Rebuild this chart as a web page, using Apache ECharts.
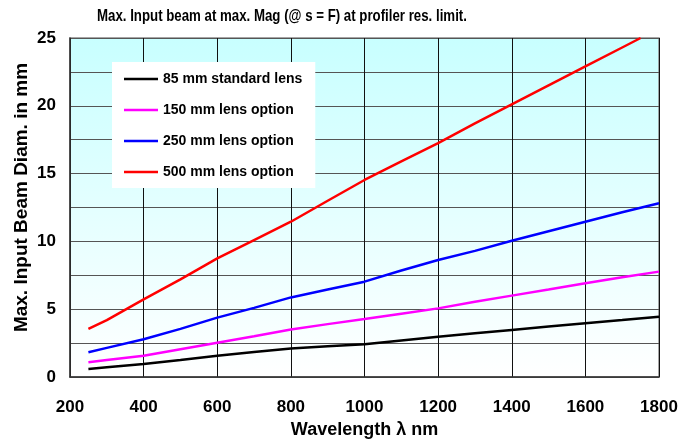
<!DOCTYPE html>
<html>
<head>
<meta charset="utf-8">
<script src="https://cdn.jsdelivr.net/npm/echarts@6/dist/echarts.min.js"></script>
<style>
html,body{margin:0;padding:0;background:#fff;}
#chart{width:690px;height:441px;}
</style>
</head>
<body>
<div id="chart"></div>
<script>
var titleText = 'Max. Input beam at max. Mag (@ s = F) at profiler res. limit.';
var xAxisName = 'Wavelength \u03bb nm';
var yAxisName = 'Max. Input Beam Diam. in mm';
var seriesNames = ['85 mm standard lens', '150 mm lens option', '250 mm lens option', '500 mm lens option'];
var seriesColors = ['#000000', '#ff00ff', '#0000ff', '#ff0000'];

var wavelengths = [250, 300, 400, 500, 600, 700, 800, 900, 1000, 1100, 1200, 1300, 1400, 1500, 1600, 1700, 1800];
var lens85  = [0.59, 0.72, 0.96, 1.25, 1.57, 1.85, 2.11, 2.27, 2.41, 2.70, 2.97, 3.22, 3.47, 3.72, 3.96, 4.20, 4.45];
var lens150 = [1.08, 1.25, 1.57, 2.05, 2.53, 3.00, 3.51, 3.90, 4.28, 4.67, 5.06, 5.55, 6.00, 6.45, 6.91, 7.35, 7.77];
var lens250 = [1.82, 2.15, 2.78, 3.55, 4.38, 5.10, 5.87, 6.45, 7.03, 7.85, 8.63, 9.30, 10.05, 10.75, 11.45, 12.15, 12.81];
var lens500x = [250, 300, 400, 500, 600, 700, 800, 900, 1000, 1100, 1200, 1300, 1400, 1500, 1600, 1700, 1750];
var lens500 = [3.54, 4.20, 5.73, 7.20, 8.75, 10.10, 11.45, 13.00, 14.53, 15.90, 17.25, 18.70, 20.10, 21.50, 22.90, 24.30, 25.00];

function pairs(xs, ys){ return xs.map(function(x,i){ return [x, ys[i]]; }); }
var seriesData = [pairs(wavelengths, lens85), pairs(wavelengths, lens150), pairs(wavelengths, lens250), pairs(lens500x, lens500)];

var chart = echarts.init(document.getElementById('chart'), null, {renderer:'canvas'});
var fontFam = 'Liberation Sans, Arial, sans-serif';
var lineIcon = 'path://M0,0 M0,14 M0,5.75 L34,5.75 L34,8.25 L0,8.25 Z';
chart.setOption({
  animation: false,
  backgroundColor: '#ffffff',
  graphic: [{
    type: 'text',
    x: 97, y: 16,
    scaleX: 0.78,
    style: {
      text: titleText,
      font: 'bold 17px Liberation Sans, Arial, sans-serif',
      fill: '#000',
      textAlign: 'left',
      textVerticalAlign: 'middle'
    }
  }],
  legend: {
    orient: 'vertical',
    left: 112, top: 62,
    backgroundColor: '#ffffff',
    padding: [10, 13, 9, 12],
    itemWidth: 34, itemHeight: 14, itemGap: 17,
    icon: lineIcon,
    textStyle: {fontFamily: fontFam, fontWeight: 'bold', fontSize: 14, color: '#000'},
    data: seriesNames
  },
  grid: {
    left: 70, right: 31, top: 38, bottom: 64,
    containLabel: false,
    outerBoundsMode: 'none',
    show: true,
    borderColor: '#888', borderWidth: 1.5,
    backgroundColor: new echarts.graphic.LinearGradient(0, 0, 0, 1, [
      {offset: 0, color: '#c8ffff'},
      {offset: 1, color: '#ffffff'}
    ])
  },
  xAxis: {
    type: 'value', min: 200, max: 1800, interval: 200,
    name: xAxisName, nameLocation: 'middle', nameGap: 44,
    nameMoveOverlap: false,
    nameTextStyle: {fontFamily: fontFam, fontWeight: 'bold', fontSize: 18, color: '#000'},
    axisLine: {show: true, lineStyle: {color: '#333', width: 1.5}},
    axisTick: {show: false},
    axisLabel: {fontFamily: fontFam, fontWeight: 'bold', fontSize: 17, color: '#000', margin: 22,
      formatter: function(v){ return String(v); }},
    splitLine: {show: true, lineStyle: {color: '#111', width: 1}}
  },
  yAxis: {
    type: 'value', min: 0, max: 25, interval: 2.5,
    name: yAxisName, nameLocation: 'middle', nameGap: 39,
    nameMoveOverlap: false,
    nameTextStyle: {fontFamily: fontFam, fontWeight: 'bold', fontSize: 19, color: '#000', padding: [0, 0, 0, 20]},
    axisLine: {show: true, lineStyle: {color: '#333', width: 1.5}},
    axisTick: {show: false},
    axisLabel: {fontFamily: fontFam, fontWeight: 'bold', fontSize: 17, color: '#000', margin: 14,
      formatter: function(v){ return (Math.abs(v % 5) < 1e-9) ? String(v) : ''; }},
    splitLine: {show: true, lineStyle: {color: '#555', width: 1}}
  },
  series: seriesNames.map(function(n, i){
    return {
      name: n, type: 'line', data: seriesData[i],
      symbol: 'none', smooth: false, z: 3,
      lineStyle: {color: seriesColors[i], width: 2.5},
      itemStyle: {color: seriesColors[i]}
    };
  })
});
</script>
</body>
</html>
